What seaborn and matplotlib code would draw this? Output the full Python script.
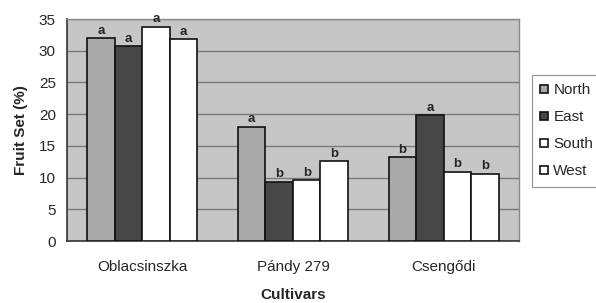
import pandas as pd
import matplotlib.pyplot as plt
import seaborn as sns

cultivars = ["Oblacsinszka", "Pándy 279", "Csengődi"]
directions = ["North", "East", "South", "West"]
north = [32.0, 18.0, 13.2]
east = [30.7, 9.3, 19.8]
south = [33.8, 9.6, 10.9]
west = [31.8, 12.6, 10.6]
letters_north = ["a", "a", "b"]
letters_east = ["a", "b", "a"]
letters_south = ["a", "b", "b"]
letters_west = ["a", "b", "b"]

sns.set_style("white")
plt.rcParams['font.family'] = ['Liberation Sans', 'DejaVu Sans']

rows = []
for d, vals in zip(directions, [north, east, south, west]):
    for c, v in zip(cultivars, vals):
        rows.append({"Cultivar": c, "Direction": d, "Fruit Set": v})
df = pd.DataFrame(rows)

palette = {"North": "#a9a9a9", "East": "#474747", "South": "#ffffff", "West": "#ffffff"}

fig = plt.figure(figsize=(5.96, 3.03), dpi=100)
ax = fig.add_axes([0.1124, 0.2046, 0.7584, 0.7324])
ax.set_facecolor("#c6c6c6")

sns.barplot(data=df, x="Cultivar", y="Fruit Set", hue="Direction",
            order=cultivars, hue_order=directions, palette=palette,
            width=0.73, gap=0, edgecolor="#111111", linewidth=1.2,
            errorbar=None, ax=ax, zorder=3)

# significance letters above each bar
all_letters = [letters_north, letters_east, letters_south, letters_west]
for cont, lets in zip(ax.containers, all_letters):
    for bar, let in zip(cont, lets):
        ax.text(bar.get_x() + bar.get_width() / 2, bar.get_height() + 0.25, let,
                ha="center", va="bottom", fontsize=9.5, fontweight="bold", zorder=4)

ax.set_ylim(0, 35)
ax.set_xlim(-0.5, 2.5)
ax.set_yticks(range(0, 36, 5))
ax.yaxis.grid(True, color="#7a7a7a", linewidth=1.0, zorder=0)
ax.set_axisbelow(True)

ax.set_xticks([0, 1, 2])
ax.set_xticklabels(cultivars, fontsize=11)
ax.set_xticks([0.5, 1.5], minor=True)
ax.tick_params(axis="x", which="major", length=0, pad=14)
ax.tick_params(axis="x", which="minor", length=4, direction="in", color="#555555")
ax.tick_params(axis="y", length=4, direction="out", labelsize=11, color="#333333", pad=4)

for side in ["top", "right"]:
    ax.spines[side].set_color("#8a8a8a")
    ax.spines[side].set_linewidth(1.0)
for side in ["left", "bottom"]:
    ax.spines[side].set_color("#333333")
    ax.spines[side].set_linewidth(1.2)

ax.set_xlabel("Cultivars", fontsize=11, fontweight="bold", labelpad=10)
ax.set_ylabel("Fruit Set (%)", fontsize=11, fontweight="bold", labelpad=8)

handles, labels = ax.get_legend_handles_labels()
leg = ax.legend(handles, labels, loc="upper left", bbox_to_anchor=(532 / 596, 1 - 75 / 303),
                bbox_transform=fig.transFigure, fontsize=11, frameon=True, fancybox=False,
                edgecolor="#777777", handlelength=0.5, handleheight=0.5, handletextpad=0.35,
                labelspacing=0.85, borderpad=0.55, borderaxespad=0)
leg.get_frame().set_linewidth(0.8)

plt.savefig("out.png", dpi=100)
